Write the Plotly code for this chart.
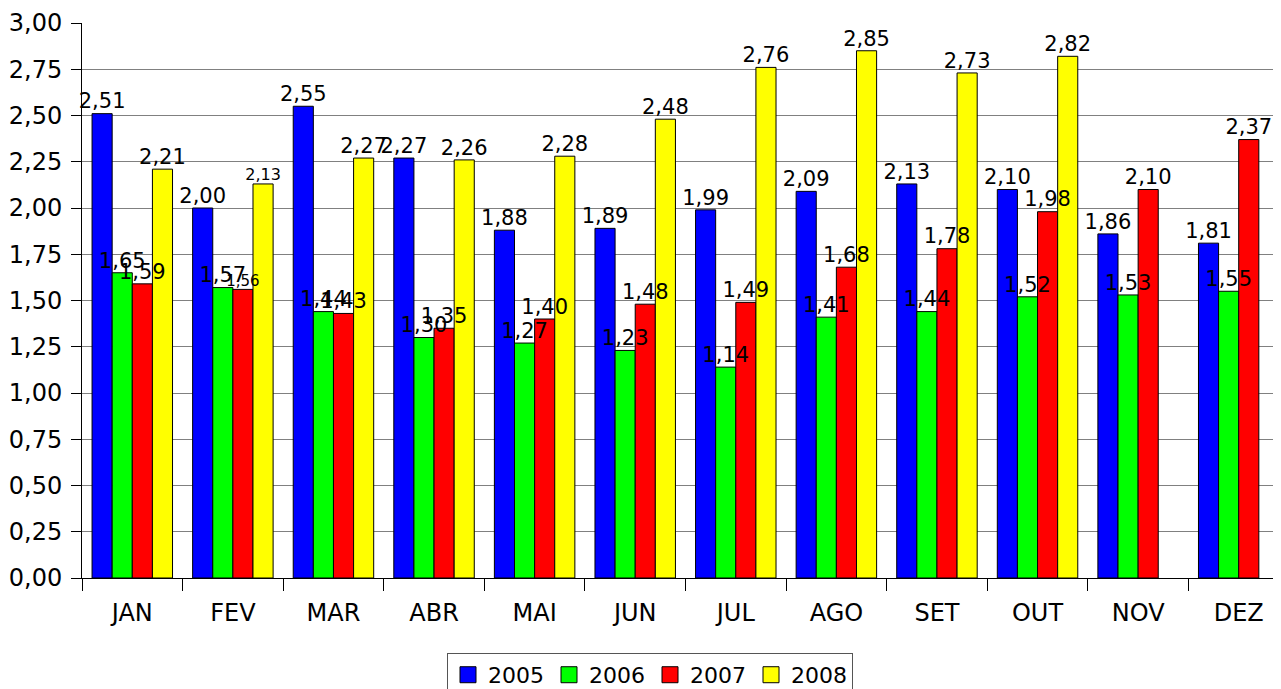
import plotly.graph_objects as go

months = ["JAN", "FEV", "MAR", "ABR", "MAI", "JUN", "JUL", "AGO", "SET", "OUT", "NOV", "DEZ"]
series_names = ["2005", "2006", "2007", "2008"]
v2005 = [2.51, 2.00, 2.55, 2.27, 1.88, 1.89, 1.99, 2.09, 2.13, 2.10, 1.86, 1.81]
v2006 = [1.65, 1.57, 1.44, 1.30, 1.27, 1.23, 1.14, 1.41, 1.44, 1.52, 1.53, 1.55]
v2007 = [1.59, 1.56, 1.43, 1.35, 1.40, 1.48, 1.49, 1.68, 1.78, 1.98, 2.10, 2.37]
v2008 = [2.21, 2.13, 2.27, 2.26, 2.28, 2.48, 2.76, 2.85, 2.73, 2.82, None, None]
colors = ["#0000ff", "#00ff00", "#ff0000", "#ffff00"]

# label font sizes (FEV labels for 2007/2008 are smaller in the original)
label_sizes = {
    "2005": [21] * 12,
    "2006": [21] * 12,
    "2007": [21, 15] + [21] * 10,
    "2008": [21, 16] + [21] * 10,
}

FONT = "DejaVu Sans"
BARGAP = 0.2
n_series = len(series_names)
slot = (1 - BARGAP) / n_series

fig = go.Figure()
all_vals = [v2005, v2006, v2007, v2008]
for name, vals, col in zip(series_names, all_vals, colors):
    fig.add_trace(go.Bar(
        name=name, x=months, y=vals,
        marker=dict(color=col, line=dict(color="#000000", width=1)),
        showlegend=False, hoverinfo="x+y",
    ))

# value labels, drawn above all bars on an overlaid numeric axis
for k, (name, vals) in enumerate(zip(series_names, all_vals)):
    off = (k - (n_series - 1) / 2) * slot
    fig.add_trace(go.Scatter(
        x=[i + off for i in range(len(months))], y=vals,
        xaxis="x2", mode="text", texttemplate="%{y:.2f}", textposition="top center",
        textfont=dict(family=FONT, size=label_sizes[name], color="#000000"),
        showlegend=False, cliponaxis=False, hoverinfo="skip",
    ))

# legend entries
for name, col in zip(series_names, colors):
    fig.add_trace(go.Scatter(
        x=[None], y=[None], name=name, mode="markers",
        marker=dict(symbol="square", size=16, color=col, line=dict(color="#000000", width=1)),
        showlegend=True,
    ))

fig.update_layout(
    width=1281, height=689,
    margin=dict(l=74, r=0, t=15, b=119, autoexpand=False),
    paper_bgcolor="white", plot_bgcolor="white",
    separators=",.",
    barmode="group", bargap=BARGAP, bargroupgap=0,
    font=dict(family=FONT, size=24, color="#000000"),
    showlegend=True,
    legend=dict(orientation="h", x=0.4706, xanchor="center", y=-0.135, yanchor="top",
                bordercolor="#555555", borderwidth=1, font=dict(size=22, family=FONT),
                traceorder="normal", itemwidth=30),
    xaxis2=dict(overlaying="x", range=[-0.5, len(months) - 0.5], visible=False, fixedrange=True),
)
fig.update_yaxes(
    range=[0, 3], dtick=0.25, tick0=0, tickformat=".2f",
    showgrid=True, gridcolor="#808080", gridwidth=1,
    showline=True, linecolor="#000000", linewidth=1,
    ticks="outside", ticklen=10, tickcolor="#000000", ticklabelstandoff=4,
    tickfont=dict(size=24, family=FONT), zeroline=False, automargin=False,
)
fig.update_layout(xaxis=dict(
    showline=True, linecolor="#000000", linewidth=1,
    ticks="outside", ticklen=12, tickcolor="#000000", tickson="boundaries",
    tickfont=dict(size=24, family=FONT), automargin=False, ticklabelstandoff=13,
))
fig.write_html("out.html")
